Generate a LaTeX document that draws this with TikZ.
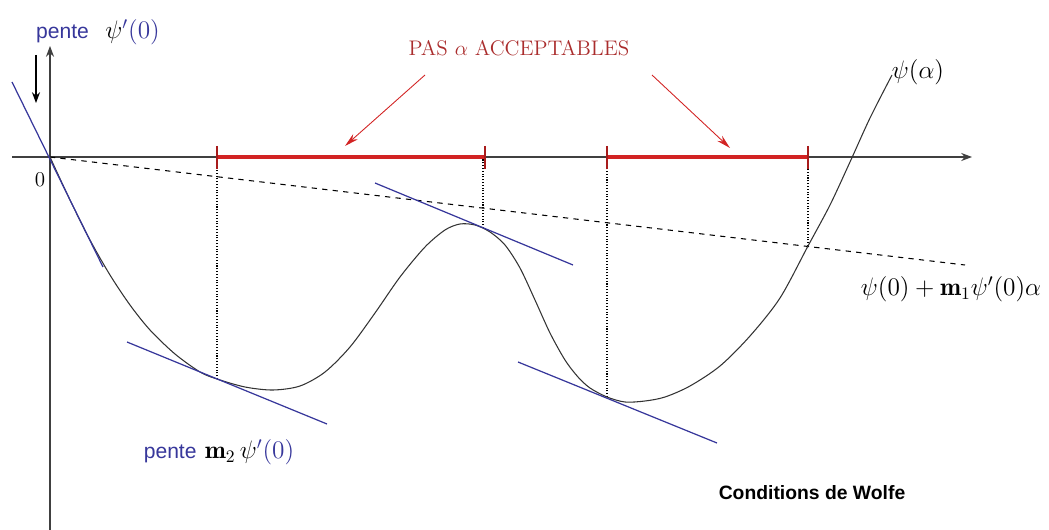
\documentclass[tikz,border=0pt]{standalone}
\usepackage{amsmath}
\usepackage{fontspec}
\usepackage{xcolor}
\usetikzlibrary{arrows.meta}
\newfontfamily\arialfont{Liberation Sans}
\definecolor{tanblue}{RGB}{55,55,155}
\definecolor{pasred}{RGB}{210,35,35}
\definecolor{txtred}{RGB}{170,45,45}
\newcommand{\pente}{{\fontsize{12}{14}\selectfont\arialfont\color{tanblue}pente}}
\tikzset{
  axe/.style={draw=black!75,line width=0.7pt,-Stealth},
  tangente/.style={draw=tanblue,line width=0.7pt},
  rappel/.style={draw=black,densely dotted,line width=0.6pt},
  pas/.style={draw=pasred,line width=2.2pt},
  borne/.style={draw=pasred!80!black,line width=1.6pt},
  fleche/.style={draw=pasred,line width=0.5pt,-{Stealth[length=8pt,width=4pt]}}
}
\begin{document}
\begin{tikzpicture}[x=0.02cm,y=-0.02cm,font=\Large]
\useasboundingbox (0,0) rectangle (1049,530);
\draw[axe](12,157)--(972,157);
\draw[axe](50,530)--(50,46);
\draw[-Stealth,line width=0.7pt](36,55)--(36,103);
\coordinate (O) at (50,157);
\coordinate (T1) at (217,379);
\coordinate (T2) at (483,228);
\coordinate (T3) at (607,397);
\coordinate (C4) at (808,246);
\draw[dashed,line width=0.6pt](O)--(965,265);
\foreach \p in {T1,T2,T3,C4}
  \draw[rappel](\p)--(\p|-O);
\draw[line width=0.6pt,black!80] plot[smooth,tension=0.5] coordinates{
 (50,157) (70,200) (90,240) (110,275) (130,305) (150,330) (175,354)
 (200,372) (217,379) (245,387) (273,390) (300,386) (325,372) (350,347)
 (375,313) (400,277) (425,247) (445,230) (460,224) (475,225) (490,232)
 (505,245) (520,268) (535,300) (550,333) (565,360) (578,377) (590,388)
 (607,397) (625,402) (645,401) (665,397) (690,386) (720,366) (750,336)
 (780,298) (808,246) (830,205) (850,162) (870,118) (892,75)};
\draw[tangente](12,82)--(103,267);
\draw[tangente](127,342)--(327,424);
\draw[tangente](375,183)--(573,265);
\draw[tangente](518,362)--(717,443);
\draw[pas](217,157)--(485,157);
\draw[pas](607,157)--(808,157);
\foreach \x in {217,485,607,808}
  \draw[borne](\x,146)--(\x,169);
\node[font=\large] (pas) at (519,48) {\color{txtred}PAS $\alpha$ ACCEPTABLES};
\coordinate (g) at (345,146);
\coordinate (d) at (730,148);
\draw[fleche](425,75)--(g);
\draw[fleche](652,75)--(d);
\node[font=\large] (zero) at (40,180) {$0$};
\node (psi) at (918,72) {$\psi(\alpha)$};
\node (armijo) at (951,289) {$\psi(0)+\mathbf{m}_1\psi'(0)\alpha$};
\node (p0) at (98,32) {\pente\ \ $\psi{\color{tanblue}'(0)}$};
\node (p2) at (219,452) {\pente\ $\mathbf{m}_2\,\psi{\color{tanblue}'(0)}$};
\node[font=\arialfont\bfseries\fontsize{11}{13}\selectfont] (wolfe) at (812,493) {Conditions de Wolfe};
\end{tikzpicture}
\end{document}
